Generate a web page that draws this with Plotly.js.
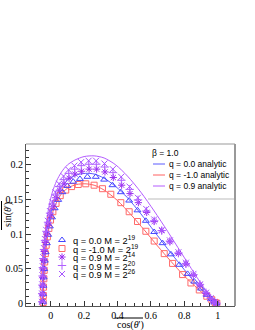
<!DOCTYPE html>
<html><head><meta charset="utf-8">
<script src="https://cdn.plot.ly/plotly-3.0.1.min.js"></script>
<style>body{margin:0;background:#fff}#c{width:255px;height:330px}</style>
</head><body><div id="c"></div>
<script>
// Analytic curves
const blueLineX = [-0.047,-0.045,-0.04,-0.032,-0.02,-0.005,0.015,0.04,0.07,0.11,0.16,0.21,0.26,0.32,0.39,0.46,0.54,0.62,0.7,0.78,0.86,0.93,0.97,1.0];
const blueLineY = [0,0.02,0.05,0.075,0.1,0.122,0.142,0.158,0.17,0.179,0.185,0.187,0.186,0.18,0.168,0.152,0.129,0.104,0.079,0.055,0.032,0.014,0.005,0];
const redLineX = [-0.045,-0.043,-0.038,-0.03,-0.018,-0.003,0.017,0.042,0.072,0.11,0.155,0.205,0.26,0.32,0.4,0.48,0.56,0.64,0.72,0.8,0.88,0.94,0.98,1.0];
const redLineY = [0,0.02,0.05,0.075,0.098,0.118,0.135,0.149,0.16,0.167,0.171,0.172,0.17,0.163,0.148,0.128,0.106,0.083,0.061,0.04,0.022,0.009,0.003,0];
const violetLineX = [-0.052,-0.05,-0.045,-0.037,-0.025,-0.01,0.01,0.035,0.065,0.1,0.145,0.2,0.26,0.32,0.39,0.46,0.54,0.62,0.7,0.78,0.86,0.93,0.97,1.0];
const violetLineY = [0,0.025,0.06,0.09,0.117,0.14,0.16,0.176,0.189,0.199,0.206,0.211,0.212,0.209,0.199,0.183,0.16,0.133,0.104,0.074,0.044,0.019,0.007,0];

// Simulated points
const triX = [-0.046,-0.045,-0.044,-0.042,-0.039,-0.035,-0.03,-0.023,-0.015,-0.005,0.008,0.024,0.045,0.07,0.1,0.135,0.175,0.22,0.27,0.32,0.37,0.42,0.47,0.52,0.57,0.62,0.67,0.72,0.77,0.82,0.86,0.9,0.935,0.96,0.98,0.993];
const triY = [0.003,0.014,0.026,0.038,0.05,0.062,0.074,0.087,0.099,0.111,0.124,0.137,0.149,0.16,0.169,0.175,0.179,0.182,0.182,0.178,0.17,0.16,0.148,0.134,0.119,0.103,0.087,0.071,0.056,0.043,0.032,0.022,0.013,0.007,0.003,0.001];
const sqX = [-0.045,-0.044,-0.043,-0.041,-0.039,-0.036,-0.032,-0.027,-0.02,-0.011,-0.001,0.013,0.032,0.057,0.09,0.125,0.165,0.21,0.26,0.31,0.36,0.42,0.47,0.52,0.57,0.62,0.68,0.73,0.79,0.84,0.89,0.935,0.965,0.985,0.995];
const sqY = [0.002,0.012,0.024,0.036,0.048,0.06,0.072,0.084,0.096,0.108,0.12,0.132,0.144,0.155,0.163,0.168,0.171,0.172,0.17,0.165,0.157,0.145,0.132,0.118,0.104,0.09,0.072,0.058,0.042,0.03,0.02,0.011,0.006,0.002,0.001];
const astX = [-0.05,-0.05,-0.049,-0.048,-0.046,-0.043,-0.039,-0.033,-0.025,-0.015,-0.003,0.012,0.03,0.052,0.08,0.11,0.145,0.185,0.23,0.275,0.325,0.375,0.425,0.475,0.525,0.575,0.62,0.665,0.714,0.765,0.81,0.855,0.894,0.93,0.958,0.978,0.993];
const astY = [0.003,0.014,0.026,0.038,0.05,0.062,0.075,0.088,0.1,0.113,0.126,0.139,0.152,0.163,0.172,0.18,0.186,0.19,0.193,0.193,0.189,0.181,0.17,0.158,0.145,0.131,0.118,0.105,0.089,0.072,0.057,0.041,0.027,0.015,0.008,0.003,0.001];
const plusX = [-0.051,-0.051,-0.05,-0.049,-0.047,-0.044,-0.04,-0.034,-0.026,-0.016,-0.004,0.011,0.029,0.051,0.078,0.108,0.143,0.183,0.228,0.273,0.323,0.373,0.423,0.473,0.523,0.573,0.62,0.665,0.714,0.765,0.81,0.855,0.894,0.93,0.958,0.978,0.993];
const plusY = [0.003,0.015,0.027,0.04,0.052,0.065,0.078,0.091,0.104,0.117,0.13,0.143,0.156,0.168,0.178,0.187,0.193,0.198,0.2,0.2,0.196,0.188,0.177,0.164,0.149,0.133,0.119,0.105,0.09,0.073,0.058,0.042,0.028,0.016,0.008,0.003,0.001];
const crossX = [-0.052,-0.052,-0.051,-0.05,-0.048,-0.045,-0.041,-0.035,-0.027,-0.017,-0.005,0.01,0.028,0.05,0.077,0.107,0.142,0.182,0.227,0.272,0.322,0.372,0.422,0.472,0.522,0.572,0.62,0.665,0.714,0.765,0.81,0.855,0.894,0.93,0.958,0.978,0.993];
const crossY = [0.003,0.015,0.028,0.041,0.054,0.067,0.08,0.093,0.106,0.119,0.133,0.146,0.16,0.172,0.183,0.192,0.198,0.203,0.205,0.205,0.201,0.193,0.182,0.168,0.152,0.136,0.121,0.106,0.091,0.074,0.059,0.043,0.028,0.016,0.008,0.003,0.001];

const lineLabels = ["q = 0.0 analytic","q = -1.0 analytic","q = 0.9 analytic"];
const pointLabels = ["q = 0.0 M = 2<sup>19</sup>","q = -1.0 M = 2<sup>19</sup>","q = 0.9 M = 2<sup>14</sup>","q = 0.9 M = 2<sup>20</sup>","q = 0.9 M = 2<sup>26</sup>"];
const legendTitle = "β = 1.0";

const C = {blue:'#5a5aff', red:'#ff6060', violet:'#b45cff', tri:'#4646ff', sq:'#ff6a6a', ast:'#9a2cf0', plus:'#b060ff', cross:'#a855ff'};

// plot area in pixels
const L=26, R=235, T=144, B=306, W=255, H=330;
const px = x => (x-L)/(R-L), py = y => (B-y)/(B-T);

const traces = [];
function line(x,y,c){traces.push({x,y,type:'scatter',mode:'lines',line:{color:c,width:1,shape:'spline',smoothing:0.8},hoverinfo:'skip'});}
function mk(sym,c,sz){return {symbol:sym,size:sz,color:c,line:{color:c,width:1}};}
function pts(x,y,c,sym,sz){traces.push({x,y,type:'scatter',mode:'markers',marker:mk(sym,c,sz),hoverinfo:'skip'});}
line(violetLineX,violetLineY,C.violet);
line(blueLineX,blueLineY,C.blue);
line(redLineX,redLineY,C.red);
pts(sqX,sqY,C.sq,'square-open',6);
pts(triX,triY,C.tri,'triangle-up-open',6);
pts(astX,astY,C.ast,'asterisk-open',6);
pts(plusX,plusY,C.plus,'cross-thin-open',6);
pts(crossX,crossY,C.cross,'x-thin-open',6);

// legend markers on a pixel overlay axis
const legSyms = [['triangle-up-open',C.tri,6],['square-open',C.sq,6],['asterisk-open',C.ast,6],['cross-thin-open',C.plus,6],['x-thin-open',C.cross,6]];
const leg2Y0=240, leg2dy=8.5, leg2X=62;
legSyms.forEach((s,i)=>{
  traces.push({x:[leg2X],y:[leg2Y0+i*leg2dy],xaxis:'x2',yaxis:'y2',type:'scatter',mode:'markers',
    marker:mk(s[0],s[1],s[2]),hoverinfo:'skip'});
});

const ann=[], shapes=[];
const tf = {family:'Liberation Sans, Arial, sans-serif', size:8.5, color:'#000'};
const tf2 = {family:'Liberation Sans, Arial, sans-serif', size:9.3, color:'#000'};
// legend 1
ann.push({xref:'paper',yref:'paper',x:px(150),y:py(153),text:legendTitle,showarrow:false,xanchor:'left',yanchor:'middle',font:tf});
const l1c=[C.blue,C.red,C.violet];
lineLabels.forEach((t,i)=>{
  const yy=164+i*11;
  shapes.push({type:'line',xref:'paper',yref:'paper',x0:px(153),x1:px(165),y0:py(yy),y1:py(yy),line:{color:l1c[i],width:1}});
  ann.push({xref:'paper',yref:'paper',x:px(167),y:py(yy),text:t,showarrow:false,xanchor:'left',yanchor:'middle',font:tf});
});
shapes.push({type:'line',layer:'below',xref:'paper',yref:'paper',x0:px(148),x1:1,y0:py(199),y1:py(199),line:{color:'#bbb',width:1}});
// legend 2
pointLabels.forEach((t,i)=>{
  ann.push({xref:'paper',yref:'paper',x:px(71),y:py(leg2Y0+i*leg2dy),text:t,showarrow:false,xanchor:'left',yanchor:'middle',font:tf2});
});
// frame top/right
shapes.push({type:'line',xref:'paper',yref:'paper',x0:0,x1:1,y0:1,y1:1,line:{color:'#999',width:1}});
shapes.push({type:'line',xref:'paper',yref:'paper',x0:1,x1:1,y0:0,y1:1,line:{color:'#999',width:2}});
// axis titles
const sf={family:'Liberation Serif, Times New Roman, serif', size:10, color:'#000'};
ann.push({xref:'paper',yref:'paper',x:px(130),y:py(325),text:"cos(<i>θ</i>')",showarrow:false,xanchor:'center',yanchor:'middle',font:sf});
shapes.push({type:'line',xref:'paper',yref:'paper',x0:px(115),x1:px(143),y0:py(318),y1:py(318),line:{color:'#000',width:1}});
ann.push({xref:'paper',yref:'paper',x:px(8),y:py(215),text:"sin(<i>θ</i>')",textangle:-90,showarrow:false,xanchor:'center',yanchor:'middle',font:sf});
shapes.push({type:'line',xref:'paper',yref:'paper',x0:px(1.5),x1:px(1.5),y0:py(201),y1:py(230),line:{color:'#000',width:1}});

const layout = {
  width:W,height:H,margin:{l:L,r:W-R,t:T,b:H-B},paper_bgcolor:'#fff',plot_bgcolor:'#fff',showlegend:false,
  xaxis:{range:[-0.148,1.104],dtick:0.2,tick0:0,ticks:'inside',ticklen:5,tickcolor:'#333',showline:true,linecolor:'#555',
    zeroline:false,showgrid:false,tickfont:sf,minor:{dtick:0.05,ticks:'inside',ticklen:3,tickcolor:'#333'}},
  yaxis:{range:[-0.003,0.229],dtick:0.05,tick0:0,ticks:'inside',ticklen:5,tickcolor:'#333',showline:true,linecolor:'#555',
    zeroline:false,showgrid:false,tickfont:sf,minor:{dtick:0.01,ticks:'inside',ticklen:3,tickcolor:'#333'}},
  xaxis2:{overlaying:'x',range:[L,R],visible:false,fixedrange:true},
  yaxis2:{overlaying:'y',range:[B,T],visible:false,fixedrange:true},
  annotations:ann,shapes:shapes
};
Plotly.newPlot('c',traces,layout,{staticPlot:true});
</script></body></html>
